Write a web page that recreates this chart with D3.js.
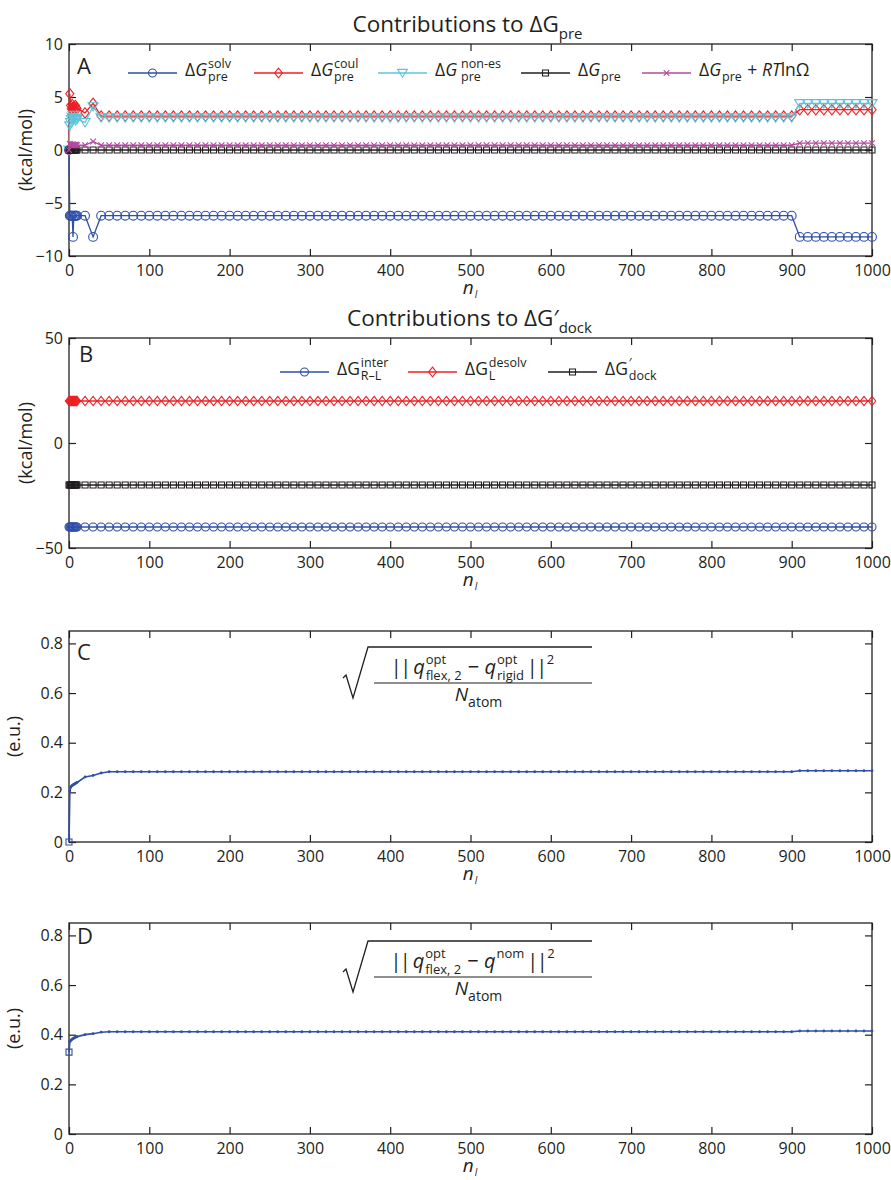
<!DOCTYPE html>
<html>
<head>
<meta charset="utf-8">
<script src="https://cdn.jsdelivr.net/npm/d3@7"></script>
<style>
  body { margin: 0; background: #fff; }
  text { font-family: "Open Sans", "Noto Sans", sans-serif; fill: #231f20; }
</style>
</head>
<body>
<svg id="chart"></svg>
<script>
// sampling grid of n_l: dense start, then every 10
const nEarly = [0, 1, 2, 3, 4, 5, 6, 7, 8, 9, 10];
const nMid = [20, 30, 40, 50];
const nPlateau = d3.range(60, 901, 10);
const nTail = d3.range(910, 1001, 10);

// Panel A (kcal/mol): values at nEarly, nMid, then plateau (60..900) and tail (910..1000)
const solvEarly = [0, -6.2, -6.2, -6.2, -6.2, -8.2, -6.2, -6.2, -6.2, -6.2, -6.2];
const solvMid = [-6.2, -8.2, -6.2, -6.2];
const solvPlateau = -6.2, solvTail = -8.2;

const coulEarly = [0, 5.3, 4.2, 3.9, 4.3, 4.0, 4.1, 3.9, 4.2, 4.0, 3.9];
const coulMid = [3.5, 4.4, 3.2, 3.2];
const coulPlateau = 3.2, coulTail = 3.8;

const nonesEarly = [0, 2.3, 2.6, 2.9, 3.1, 3.3, 2.9, 3.0, 2.8, 3.0, 2.9];
const nonesMid = [2.6, 4.1, 3.05, 3.05];
const nonesPlateau = 3.05, nonesTail = 4.4;

const preEarly = [0, 0, 0, 0, 0, 0, 0, 0, 0, 0, 0];
const preMid = [0, 0, 0, 0];
const prePlateau = 0, preTail = 0;

const preRtEarly = [0, 0.6, 0.5, 0.45, 0.5, 0.55, 0.45, 0.5, 0.45, 0.5, 0.45];
const preRtMid = [0.45, 0.8, 0.45, 0.45];
const preRtPlateau = 0.45, preRtTail = 0.65;

// Panel B (kcal/mol): flat
const interEarly = [-40, -40, -40, -40, -40, -40, -40, -40, -40, -40, -40];
const interMid = [-40, -40, -40, -40];
const interPlateau = -40, interTail = -40;
const desolvEarly = [20, 20, 20, 20, 20, 20, 20, 20, 20, 20, 20];
const desolvMid = [20, 20, 20, 20];
const desolvPlateau = 20, desolvTail = 20;
const dockEarly = [-20, -20, -20, -20, -20, -20, -20, -20, -20, -20, -20];
const dockMid = [-20, -20, -20, -20];
const dockPlateau = -20, dockTail = -20;

// Panel C / D (e.u.)
const rigidEarly = [0, 0.205, 0.22, 0.225, 0.228, 0.23, 0.232, 0.234, 0.236, 0.238, 0.24];
const rigidMid = [0.262, 0.268, 0.278, 0.283];
const rigidPlateau = 0.283, rigidTail = 0.287;

const nomEarly = [0.33, 0.372, 0.376, 0.379, 0.382, 0.384, 0.386, 0.388, 0.39, 0.391, 0.392];
const nomMid = [0.4, 0.404, 0.41, 0.412];
const nomPlateau = 0.412, nomTail = 0.415;

const xTicks = [0, 100, 200, 300, 400, 500, 600, 700, 800, 900, 1000];
const yTicksA = [-10, -5, 0, 5, 10];
const yTicksB = [-50, 0, 50];
const yTicksCD = [0, 0.2, 0.4, 0.6, 0.8];

const BLUE = "#2f4fa9", RED = "#ee2024", CYAN = "#5fc3da", BLACK = "#231f20", MAGENTA = "#b5489f";

function series(early, mid, plateau, tail) {
  return nEarly.map((n, i) => ({ n, v: early[i] }))
    .concat(nMid.map((n, i) => ({ n, v: mid[i] })))
    .concat(nPlateau.map((n) => ({ n, v: plateau })))
    .concat(nTail.map((n) => ({ n, v: tail })));
}

const W = 891, H = 1180;
const svg = d3.select("#chart").attr("width", W).attr("height", H);
const X0 = 69, X1 = 872;
const x = d3.scaleLinear().domain([0, 1000]).range([X0, X1]);

// rich text: pieces {t, i, ls} or {sup, sub}
function rich(g, px, py, pieces, fs, anchor) {
  const grp = g.append("g");
  const small = fs * 0.7;
  let cx = 0;
  pieces.forEach((p) => {
    if (p.t !== undefined) {
      const t = grp.append("text").attr("x", cx).attr("y", 0)
        .style("font-size", (p.fs || fs) + "px").style("font-style", p.i ? "italic" : "normal")
        .style("letter-spacing", p.ls ? p.ls + "px" : null).text(p.t);
      cx += t.node().getComputedTextLength();
    } else {
      const sx = cx + (p.dx ?? 1);
      let w = 0;
      if (p.sup) {
        const t = grp.append("text").attr("x", sx).attr("y", -fs * 0.48)
          .style("font-size", (p.ss || small) + "px").text(p.sup);
        w = Math.max(w, t.node().getComputedTextLength());
      }
      if (p.sub) {
        const t = grp.append("text").attr("x", sx).attr("y", fs * (p.sy ?? 0.3))
          .style("font-size", (p.ss || small) + "px").style("font-style", p.si ? "italic" : "normal").text(p.sub);
        w = Math.max(w, t.node().getComputedTextLength());
      }
      cx = sx + w + 1;
    }
  });
  const off = anchor === "middle" ? -cx / 2 : 0;
  grp.attr("transform", `translate(${px + off},${py})`);
  return cx;
}

// marker shapes, k scales the size
function marker(g, type, cx, cy, color, k = 1) {
  let d;
  if (type === "circle") {
    g.append("circle").attr("cx", cx).attr("cy", cy).attr("r", 4 * k)
      .attr("fill", "none").attr("stroke", color).attr("stroke-width", 1.1);
    return;
  }
  if (type === "dot") {
    g.append("circle").attr("cx", cx).attr("cy", cy).attr("r", 1.4).attr("fill", color);
    return;
  }
  const a = 4.9 * k, b = 3.9 * k, s = 3 * k, xx = 2.8 * k;
  if (type === "diamond") d = `M${cx},${cy - a}L${cx + b},${cy}L${cx},${cy + a}L${cx - b},${cy}Z`;
  if (type === "tri") d = `M${cx - a},${cy - 3.6 * k}L${cx + a},${cy - 3.6 * k}L${cx},${cy + 4.3 * k}Z`;
  if (type === "square") d = `M${cx - s},${cy - s}h${2 * s}v${2 * s}h${-2 * s}Z`;
  if (type === "x") d = `M${cx - xx},${cy - xx}L${cx + xx},${cy + xx}M${cx - xx},${cy + xx}L${cx + xx},${cy - xx}`;
  g.append("path").attr("d", d).attr("fill", "none").attr("stroke", color).attr("stroke-width", 1.1);
}

function frame(top, bottom, yDomain, yTicks, yFmt) {
  const y = d3.scaleLinear().domain(yDomain).range([bottom, top]);
  const g = svg.append("g");
  const ax = (sel) => sel.selectAll("path.domain").remove();
  g.append("g").attr("transform", `translate(0,${bottom})`)
    .call(d3.axisBottom(x).tickValues(xTicks).tickSize(-7).tickPadding(9).tickFormat(d3.format("d")))
    .call(ax);
  g.append("g").attr("transform", `translate(0,${top})`)
    .call(d3.axisTop(x).tickValues(xTicks).tickSize(-7).tickFormat(""))
    .call(ax);
  g.append("g").attr("transform", `translate(${X0},0)`)
    .call(d3.axisLeft(y).tickValues(yTicks).tickSize(-7).tickPadding(6).tickFormat(yFmt))
    .call(ax);
  g.append("g").attr("transform", `translate(${X1},0)`)
    .call(d3.axisRight(y).tickValues(yTicks).tickSize(-7).tickFormat(""))
    .call(ax);
  g.selectAll(".tick line").attr("stroke", BLACK).attr("stroke-width", 1.2);
  g.selectAll(".tick text").style("font-size", "16px").attr("fill", BLACK)
    .style("font-family", '"Open Sans", "Noto Sans", sans-serif');
  g.append("rect").attr("x", X0).attr("y", top).attr("width", X1 - X0).attr("height", bottom - top)
    .attr("fill", "none").attr("stroke", BLACK).attr("stroke-width", 1.3);
  // x label n_l
  rich(svg, x(500), bottom + 38, [{ t: "n", i: true }, { sub: "l", si: true, ss: 10, dx: 1, sy: 0.2 }], 19, "middle");
  return y;
}

function plotSeries(g, y, data, color, type, k) {
  const line = d3.line().x((d) => x(d.n)).y((d) => y(d.v));
  g.append("path").datum(data).attr("d", line).attr("fill", "none")
    .attr("stroke", color).attr("stroke-width", 1.3);
  data.forEach((d) => marker(g, type, x(d.n), y(d.v), color, k));
}

function legendItem(g, x0, yy, color, type, pieces, fs) {
  g.append("line").attr("x1", x0).attr("x2", x0 + 49).attr("y1", yy).attr("y2", yy)
    .attr("stroke", color).attr("stroke-width", 1.3);
  marker(g, type, x0 + 24.5, yy, color, 1);
  rich(g, x0 + 57, yy + 3, pieces, fs);
}

const yLabel = (cx, cy, txt) =>
  svg.append("text").attr("transform", `translate(${cx},${cy}) rotate(-90)`)
    .attr("text-anchor", "middle").style("font-size", "18px").text(txt);

const minusFmt = (d) => (d < 0 ? "\u2212" + Math.abs(d) : String(d));

// ---------- Panel A ----------
{
  const top = 44, bottom = 256;
  const y = frame(top, bottom, [-10, 10], yTicksA, minusFmt);
  const g = svg.append("g");
  plotSeries(g, y, series(solvEarly, solvMid, solvPlateau, solvTail), BLUE, "circle", 1.1);
  plotSeries(g, y, series(coulEarly, coulMid, coulPlateau, coulTail), RED, "diamond", 1.05);
  plotSeries(g, y, series(nonesEarly, nonesMid, nonesPlateau, nonesTail), CYAN, "tri", 1.05);
  plotSeries(g, y, series(preEarly, preMid, prePlateau, preTail), BLACK, "square", 1);
  plotSeries(g, y, series(preRtEarly, preRtMid, preRtPlateau, preRtTail), MAGENTA, "x", 1);

  rich(svg, 468, 32, [{ t: "Contributions to \u0394G" }, { sub: "pre", ss: 15, dx: 0 }], 22.5, "middle");
  svg.append("text").attr("x", 77).attr("y", 74).style("font-size", "22px").text("A");
  yLabel(32, (top + bottom) / 2, "(kcal/mol)");

  const lg = svg.append("g");
  const ly = 73;
  legendItem(lg, 128, ly, BLUE, "circle", [{ t: "\u0394" }, { t: "G", i: true }, { sup: "solv", sub: "pre", ss: 12.5 }], 17.5);
  legendItem(lg, 254, ly, RED, "diamond", [{ t: "\u0394" }, { t: "G", i: true }, { sup: "coul", sub: "pre", ss: 12.5 }], 17.5);
  legendItem(lg, 378, ly, CYAN, "tri", [{ t: "\u0394" }, { t: "G", i: true }, { sup: "non-es", sub: "pre", ss: 12.5, dx: 4 }], 17.5);
  legendItem(lg, 521, ly, BLACK, "square", [{ t: "\u0394" }, { t: "G", i: true }, { sub: "pre", ss: 12.5 }], 17.5);
  legendItem(lg, 642, ly, MAGENTA, "x", [{ t: "\u0394" }, { t: "G", i: true }, { sub: "pre", ss: 12.5 },
    { t: "\u00a0+\u00a0" }, { t: "RT", i: true }, { t: "ln\u03a9" }], 17.5);
}

// ---------- Panel B ----------
{
  const top = 338, bottom = 548;
  const y = frame(top, bottom, [-50, 50], yTicksB, minusFmt);
  const g = svg.append("g");
  plotSeries(g, y, series(interEarly, interMid, interPlateau, interTail), BLUE, "circle", 1);
  plotSeries(g, y, series(desolvEarly, desolvMid, desolvPlateau, desolvTail), RED, "diamond", 0.95);
  plotSeries(g, y, series(dockEarly, dockMid, dockPlateau, dockTail), BLACK, "square", 1);

  rich(svg, 470, 326, [{ t: "Contributions to \u0394G\u2032" }, { sub: "dock", ss: 15, dx: 0 }], 22.5, "middle");
  svg.append("text").attr("x", 79).attr("y", 362).style("font-size", "22px").text("B");
  yLabel(32, (top + bottom) / 2, "(kcal/mol)");

  const lg = svg.append("g");
  const ly = 372;
  legendItem(lg, 280, ly, BLUE, "circle", [{ t: "\u0394G" }, { sup: "inter", sub: "R\u2013L", ss: 12.5 }], 17.5);
  legendItem(lg, 408, ly, RED, "diamond", [{ t: "\u0394G" }, { sup: "desolv", sub: "L", ss: 12.5 }], 17.5);
  legendItem(lg, 548, ly, BLACK, "square", [{ t: "\u0394G" }, { sup: "\u2032", sub: "dock", ss: 12.5 }], 17.5);
}

// sqrt formula
function formula(top, lastPieces) {
  const g = svg.append("g").attr("stroke", BLACK).attr("fill", "none");
  const barY = top + 16, fracY = top + 52;
  g.append("path").attr("stroke-width", 1.3)
    .attr("d", `M343,${fracY - 5}L346,${fracY - 8}L353,${fracY + 15}L368,${barY}H592`);
  g.append("line").attr("x1", 374).attr("x2", 592).attr("y1", fracY).attr("y2", fracY).attr("stroke-width", 1.2);
  const num = [{ t: "||", ls: -1.5 }, { t: "\u2009q", i: true }, { sup: "opt", sub: "flex, 2", ss: 13 },
    { t: "\u00a0\u2212\u00a0" }, { t: "q", i: true }].concat(lastPieces);
  rich(svg, 473, fracY - 9, num, 20, "middle");
  rich(svg, 479, fracY + 18, [{ t: "N", i: true }, { sub: "atom", ss: 14, dx: 0 }], 19, "middle");
}

// ---------- Panel C ----------
{
  const top = 631, bottom = 842;
  const y = frame(top, bottom, [0, 0.85], yTicksCD, d3.format("~g"));
  const g = svg.append("g");
  const data = series(rigidEarly, rigidMid, rigidPlateau, rigidTail);
  const line = d3.line().x((d) => x(d.n)).y((d) => y(d.v));
  g.append("path").datum(data).attr("d", line).attr("fill", "none").attr("stroke", BLUE).attr("stroke-width", 1.7);
  data.forEach((d, i) => marker(g, i === 0 ? "square" : "dot", x(d.n), y(d.v), BLUE));
  svg.append("text").attr("x", 77).attr("y", 660).style("font-size", "22px").text("C");
  yLabel(20, (top + bottom) / 2, "(e.u.)");
  formula(631, [{ sup: "opt", sub: "rigid", ss: 13 }, { t: "\u2009||", ls: -1.5 }, { sup: "2", ss: 13 }]);
}

// ---------- Panel D ----------
{
  const top = 923, bottom = 1134;
  const y = frame(top, bottom, [0, 0.85], yTicksCD, d3.format("~g"));
  const g = svg.append("g");
  const data = series(nomEarly, nomMid, nomPlateau, nomTail);
  const line = d3.line().x((d) => x(d.n)).y((d) => y(d.v));
  g.append("path").datum(data).attr("d", line).attr("fill", "none").attr("stroke", BLUE).attr("stroke-width", 1.7);
  data.forEach((d, i) => marker(g, i === 0 ? "square" : "dot", x(d.n), y(d.v), BLUE));
  svg.append("text").attr("x", 77).attr("y", 944).style("font-size", "22px").text("D");
  yLabel(20, (top + bottom) / 2, "(e.u.)");
  formula(925, [{ sup: "nom", ss: 13 }, { t: "\u2009||", ls: -1.5 }, { sup: "2", ss: 13 }]);
}
</script>
</body>
</html>
